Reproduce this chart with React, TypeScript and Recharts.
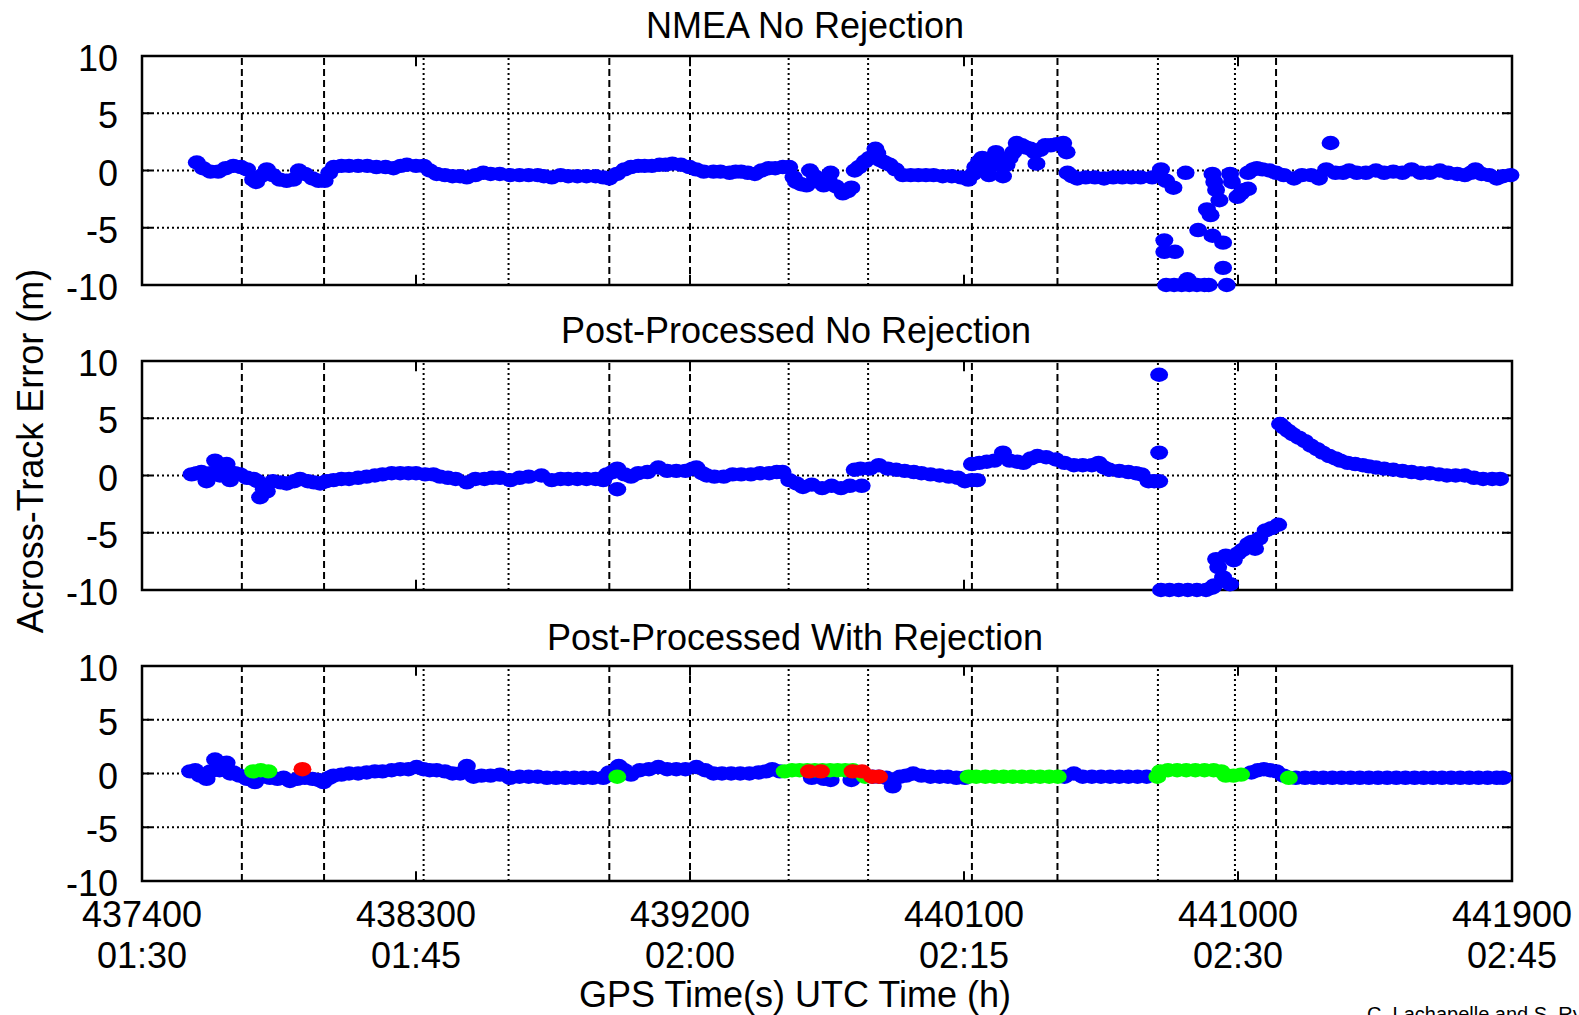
import React from 'react';
import { ScatterChart, Scatter, XAxis, YAxis, CartesianGrid, ReferenceLine, ReferenceArea } from 'recharts';

type P = [number, number];

// ---- axes / labels ----
const X_DOMAIN: [number, number] = [437400, 441900];
const X_TICKS = [437400, 438300, 439200, 440100, 441000, 441900];
const UTC_LABELS = ['01:30', '01:45', '02:00', '02:15', '02:30', '02:45'];
const Y_TICKS = [-10, -5, 0, 5, 10];
const PANEL_TITLES = ['NMEA No Rejection', 'Post-Processed No Rejection', 'Post-Processed With Rejection'];
const Y_LABEL = 'Across-Track Error (m)';
const X_LABEL = 'GPS Time(s) UTC Time (h)';
const CREDIT = 'C. Lachapelle and S. Ryan';

// ---- event marker lines (GPS time, s) ----
const DASHED_EVENTS = [437728, 437998, 438935, 439200, 440126, 440407, 441125];
const DOTTED_EVENTS = [438325, 438604, 439524, 439785, 440737, 440990];

// ---- panel 1 : NMEA no rejection ----
const NMEA: P[] = [
  [437580,0.7],[437600,0.2],[437625,-0.1],[437650,-0.1],[437675,0.2],[437700,0.4],[437725,0.3],[437745,0.1],[437765,-0.8],[437775,-1.0],
  [437790,-0.5],[437810,0.1],[437830,-0.4],[437853,-0.8],[437875,-0.9],[437897,-0.8],[437915,0.0],[437935,-0.3],[437960,-0.7],[437980,-0.9],
  [438000,-0.9],[438015,-0.2],[438030,0.3],[438055,0.4],[438080,0.4],[438110,0.4],[438140,0.4],[438170,0.3],[438200,0.3],[438226,0.2],
  [438250,0.4],[438270,0.5],[438300,0.4],[438325,0.4],[438345,0.0],[438368,-0.3],[438395,-0.4],[438420,-0.5],[438445,-0.5],[438467,-0.6],
  [438495,-0.4],[438521,-0.2],[438545,-0.3],[438575,-0.3],[438609,-0.4],[438640,-0.4],[438670,-0.4],[438700,-0.4],[438720,-0.5],[438746,-0.6],
  [438775,-0.4],[438800,-0.5],[438830,-0.5],[438860,-0.5],[438890,-0.5],[438915,-0.6],[438935,-0.7],[438960,-0.3],[438985,0.1],[439006,0.3],
  [439030,0.4],[439051,0.4],[439075,0.4],[439100,0.5],[439120,0.5],[439142,0.6],[439170,0.5],[439198,0.3],[439220,0.1],[439245,-0.1],
  [439277,-0.1],[439300,-0.1],[439330,-0.2],[439350,-0.1],[439368,-0.1],[439390,-0.2],[439413,-0.3],[439435,0.0],[439458,0.2],[439480,0.2],
  [439505,0.3],[439526,0.3],[439540,-0.6],[439549,-1.0],[439565,-1.2],[439583,-1.3],[439594,0.0],[439610,-0.5],[439625,-1.0],[439639,-1.3],
  [439655,-0.8],[439662,-0.2],[439680,-1.4],[439702,-2.0],[439718,-1.8],[439730,-1.5],[439741,0.0],[439755,0.3],[439775,0.8],[439790,1.1],
  [439809,1.9],[439815,1.5],[439825,0.9],[439840,0.7],[439856,0.5],[439875,0.1],[439899,-0.4],[439925,-0.4],[439950,-0.4],[439975,-0.4],
  [440000,-0.4],[440030,-0.5],[440060,-0.5],[440090,-0.6],[440114,-0.8],[440130,-0.3],[440137,0.3],[440150,0.8],[440160,1.1],[440172,0.2],
  [440182,-0.4],[440195,0.9],[440205,1.6],[440215,0.5],[440228,-0.5],[440240,0.5],[440250,1.1],[440262,1.6],[440273,2.4],[440290,2.2],
  [440305,2.0],[440318,1.9],[440332,1.6],[440338,0.6],[440350,1.8],[440367,2.2],[440385,2.2],[440405,2.3],[440426,2.4],[440437,1.6],
  [440440,-0.2],[440455,-0.5],[440472,-0.7],[440500,-0.6],[440530,-0.6],[440560,-0.7],[440590,-0.6],[440620,-0.6],[440650,-0.6],[440680,-0.6],
  [440718,-0.6],[440747,0.1],[440764,-0.9],[440788,-1.5],[440828,-0.2],[440758,-6.1],[440758,-7.1],[440793,-7.1],[440764,-10],[440790,-10],
  [440815,-10],[440840,-10],[440865,-10],[440890,-10],[440904,-10],[440834,-9.5],[440869,-5.2],[440898,-3.4],[440910,-3.9],[440916,-5.7],
  [440951,-6.3],[440916,-0.3],[440922,-1.0],[440928,-1.7],[440939,-2.6],[440951,-8.5],[440963,-10],[440974,-0.3],[440980,-1.0],[440998,-2.3],
  [441010,-2.0],[441021,-1.7],[441033,-1.6],[441033,-0.2],[441050,0.1],[441062,0.2],[441080,0.1],[441103,0.0],[441125,-0.2],[441150,-0.4],
  [441184,-0.7],[441210,-0.4],[441240,-0.4],[441266,-0.7],[441290,0.1],[441304,2.4],[441320,-0.2],[441345,-0.2],[441365,0.0],[441390,-0.2],
  [441420,-0.2],[441453,0.0],[441480,-0.2],[441510,-0.1],[441540,-0.2],[441570,0.1],[441600,-0.2],[441630,-0.2],[441663,0.0],[441690,-0.2],
  [441720,-0.3],[441745,-0.4],[441765,-0.2],[441780,0.1],[441800,-0.3],[441825,-0.4],[441850,-0.7],[441870,-0.5],[441895,-0.4],
];

// ---- panel 2 : post-processed, no rejection ----
const PP_NO_REJ: P[] = [
  [437563,0.1],[437580,0.2],[437595,0.3],[437612,-0.5],[437625,0.2],[437640,1.3],[437656,0.0],[437665,0.8],[437678,1.0],[437689,-0.4],
  [437705,0.2],[437722,0.1],[437745,-0.2],[437766,-0.3],[437780,-0.5],[437788,-1.9],[437800,-1.2],[437810,-1.4],[437830,-0.5],[437855,-0.6],
  [437875,-0.7],[437900,-0.5],[437919,-0.3],[437945,-0.5],[437965,-0.6],[437985,-0.7],[438005,-0.5],[438029,-0.4],[438055,-0.3],[438080,-0.3],
  [438110,-0.2],[438138,-0.1],[438165,0.0],[438190,0.1],[438220,0.2],[438248,0.2],[438275,0.2],[438300,0.2],[438330,0.1],[438357,0.1],
  [438379,-0.1],[438405,-0.2],[438430,-0.3],[438467,-0.6],[438495,-0.3],[438525,-0.3],[438550,-0.2],[438576,-0.2],[438610,-0.4],[438640,-0.2],
  [438670,-0.1],[438712,0.0],[438746,-0.4],[438775,-0.3],[438800,-0.3],[438830,-0.3],[438860,-0.3],[438890,-0.3],[438915,-0.4],[438927,0.1],
  [438945,0.3],[438961,0.6],[438961,-1.2],[438985,0.1],[439006,-0.1],[439030,0.2],[439060,0.3],[439096,0.7],[439125,0.4],[439155,0.4],
  [439185,0.4],[439209,0.6],[439221,0.7],[439240,0.2],[439255,0.0],[439280,-0.1],[439311,-0.1],[439340,0.1],[439368,0.1],[439400,0.1],
  [439430,0.2],[439460,0.2],[439485,0.3],[439504,0.3],[439526,-0.4],[439550,-0.7],[439571,-1.0],[439600,-0.8],[439634,-1.1],[439665,-0.9],
  [439696,-1.1],[439725,-0.9],[439764,-0.9],[439741,0.5],[439760,0.6],[439790,0.6],[439820,0.9],[439850,0.6],[439877,0.5],[439905,0.4],
  [439935,0.3],[439960,0.2],[439990,0.1],[440020,0.0],[440050,-0.1],[440080,-0.2],[440103,-0.5],[440125,-0.4],[440143,-0.4],[440126,1.0],
  [440150,1.1],[440175,1.2],[440200,1.3],[440228,2.0],[440250,1.3],[440275,1.2],[440295,1.1],[440320,1.5],[440341,1.7],[440370,1.6],
  [440402,1.4],[440430,1.1],[440461,0.9],[440490,0.9],[440520,0.9],[440542,1.1],[440560,0.7],[440577,0.5],[440610,0.4],[440640,0.3],
  [440665,0.2],[440683,0.1],[440706,-0.5],[440725,-0.5],[440741,-0.5],[440741,8.8],[440741,2.0],[440747,-10],[440775,-10],[440805,-10],
  [440835,-10],[440865,-10],[440895,-10],[440915,-9.8],[440922,-9.6],[440928,-7.3],[440935,-8.0],[440951,-8.9],[440974,-9.5],[440960,-7.0],
  [440986,-7.4],[441000,-6.8],[441015,-6.5],[441033,-6.0],[441045,-5.8],[441056,-6.4],[441070,-5.5],[441091,-4.8],[441110,-4.6],[441132,-4.3],
  [441138,4.5],[441150,4.2],[441165,3.9],[441180,3.6],[441200,3.3],[441220,3.0],[441240,2.6],[441260,2.3],[441278,2.0],[441300,1.7],
  [441320,1.5],[441336,1.3],[441360,1.1],[441385,1.0],[441410,0.9],[441430,0.8],[441453,0.7],[441480,0.6],[441510,0.5],[441540,0.4],
  [441570,0.3],[441600,0.2],[441630,0.2],[441660,0.1],[441686,0.0],[441715,0.0],[441745,0.0],[441775,-0.2],[441805,-0.3],[441835,-0.3],
  [441861,-0.3],
];

// ---- panel 3 : post-processed with rejection ----
const PP_REJ_BLUE: P[] = [
  [437558,0.2],[437575,0.3],[437591,-0.2],[437612,-0.5],[437625,0.2],[437640,1.3],[437655,0.3],[437678,1.0],[437690,0.0],[437700,0.1],
  [437720,-0.2],[437745,-0.5],[437771,-0.8],[437795,-0.3],[437820,-0.4],[437845,-0.5],[437865,-0.4],[437886,-0.7],[437910,-0.5],[437935,-0.4],
  [437960,-0.5],[437980,-0.6],[437996,-0.8],[438015,-0.4],[438029,-0.2],[438055,-0.1],[438080,0.0],[438110,0.0],[438138,0.1],[438165,0.2],
  [438190,0.2],[438220,0.3],[438248,0.4],[438275,0.4],[438302,0.6],[438325,0.4],[438345,0.3],[438368,0.3],[438395,0.2],[438420,0.0],
  [438445,0.0],[438467,0.7],[438489,-0.3],[438515,-0.2],[438545,-0.2],[438576,-0.1],[438609,-0.4],[438640,-0.3],[438670,-0.3],[438700,-0.3],
  [438730,-0.4],[438760,-0.4],[438790,-0.4],[438820,-0.4],[438850,-0.4],[438880,-0.4],[438915,-0.4],[438935,0.1],[438966,0.7],[438985,0.3],
  [439006,-0.1],[439035,0.3],[439065,0.4],[439096,0.6],[439125,0.4],[439155,0.4],[439185,0.4],[439221,0.6],[439250,0.3],[439277,0.0],
  [439305,0.0],[439335,0.0],[439365,0.0],[439395,0.0],[439425,0.1],[439450,0.2],[439470,0.4],[439495,0.2],[439600,-0.4],[439640,-0.5],
  [439662,-0.6],[439730,-0.6],[439800,-0.3],[439820,-0.3],[439845,-0.4],[439866,-1.2],[439890,-0.3],[439910,-0.2],[439933,0.0],[439960,-0.2],
  [439990,-0.3],[440020,-0.3],[440047,-0.3],[440075,-0.4],[440103,-0.4],[440430,-0.3],[440461,0.0],[440490,-0.3],[440520,-0.3],[440550,-0.3],
  [440580,-0.3],[440610,-0.3],[440640,-0.3],[440670,-0.3],[440700,-0.3],[441044,0.1],[441065,0.3],[441085,0.4],[441105,0.3],[441126,0.2],
  [441150,-0.2],[441190,-0.4],[441220,-0.4],[441250,-0.4],[441280,-0.4],[441310,-0.4],[441340,-0.4],[441370,-0.4],[441400,-0.4],[441430,-0.4],
  [441460,-0.4],[441490,-0.4],[441520,-0.4],[441550,-0.4],[441580,-0.4],[441610,-0.4],[441640,-0.4],[441670,-0.4],[441700,-0.4],[441730,-0.4],
  [441760,-0.4],[441790,-0.4],[441820,-0.4],[441850,-0.4],[441870,-0.4],
];
const PP_REJ_GREEN: P[] = [
  [437765,0.2],[437790,0.3],[437815,0.2],[438961,-0.3],
  [439511,0.2],[439535,0.3],[439560,0.3],[439585,0.3],[439610,0.3],[439635,0.3],[439660,0.3],[439685,0.3],[439710,0.3],[439735,0.3],
  [439760,0.1],[439775,-0.3],
  [440115,-0.3],[440140,-0.3],[440170,-0.3],[440200,-0.3],[440230,-0.3],[440260,-0.3],[440290,-0.3],[440320,-0.3],[440350,-0.3],[440380,-0.3],
  [440408,-0.3],
  [440735,-0.3],[440745,0.2],[440770,0.3],[440800,0.3],[440830,0.3],[440860,0.3],[440890,0.3],[440920,0.3],[440945,0.2],[440960,-0.2],
  [440985,-0.2],[441010,-0.1],
  [441167,-0.4],
];
const PP_REJ_RED: P[] = [
  [437927,0.4],[439591,0.2],[439630,0.2],[439734,0.2],[439765,0.2],[439798,-0.3],[439821,-0.3],
];

const FONT = "'Liberation Sans', Arial, Helvetica, sans-serif";
const W = 1579;
const BLUE = '#0000ff';
const GREEN = '#00ff00';
const RED = '#ff0000';

const toPts = (arr: P[]) => arr.map(([t, y]) => ({ t, y }));

const dotShape = (color: string) => (p: any) => (
  <ellipse cx={p.cx} cy={p.cy} rx={9} ry={7.2} fill={color} stroke="none" />
);

const YTick = (props: any) => {
  const { x, y, payload } = props;
  return (
    <text x={x - 24} y={y + 15} textAnchor="end" fontSize={36} fill="#000" fontFamily={FONT}>
      {payload.value}
    </text>
  );
};

const XTick = (props: any) => {
  const { x, y, payload } = props;
  const i = X_TICKS.indexOf(payload.value);
  return (
    <g>
      <text x={x} y={y + 46} textAnchor="middle" fontSize={36} fill="#000" fontFamily={FONT}>
        {payload.value}
      </text>
      <text x={x} y={y + 87} textAnchor="middle" fontSize={36} fill="#000" fontFamily={FONT}>
        {UTC_LABELS[i]}
      </text>
    </g>
  );
};

type SeriesDef = { data: P[]; color: string };

function Panel({ top, plotH, series, showX }: { top: number; plotH: number; series: SeriesDef[]; showX: boolean }) {
  const mt = 20;
  const mb = showX ? 0 : 32;
  const xh = showX ? 110 : 0;
  const h = mt + plotH + mb + xh;
  const tx = 33; // inward tick length (s)
  const ty = 0.9; // inward tick length (m)
  return (
    <div style={{ position: 'absolute', left: 0, top: top - mt, width: W, height: h }}>
      <ScatterChart width={W} height={h} margin={{ top: mt, right: 67, bottom: mb, left: 0 }}>
        <CartesianGrid vertical={false} stroke="#000" strokeDasharray="2 3" strokeWidth={2} />
        <XAxis
          type="number"
          dataKey="t"
          domain={X_DOMAIN}
          ticks={X_TICKS}
          interval={0}
          hide={!showX}
          height={xh}
          axisLine={false}
          tickLine={false}
          tickSize={0}
          tickMargin={0}
          tick={XTick}
        />
        <YAxis
          type="number"
          dataKey="y"
          domain={[-10, 10]}
          ticks={Y_TICKS}
          interval={0}
          width={142}
          axisLine={false}
          tickLine={false}
          tickSize={0}
          tickMargin={0}
          tick={YTick}
        />
        {series.map((s, i) => (
          <Scatter
            key={i}
            data={toPts(s.data)}
            fill={s.color}
            isAnimationActive={false}
            shape={dotShape(s.color)}
          />
        ))}
        {DOTTED_EVENTS.map((v) => (
          <ReferenceLine key={'d' + v} x={v} stroke="#000" strokeWidth={2} strokeDasharray="2 3" />
        ))}
        {DASHED_EVENTS.map((v) => (
          <ReferenceLine key={'D' + v} x={v} stroke="#000" strokeWidth={2} strokeDasharray="7 4" />
        ))}
        {Y_TICKS.map((v) => (
          <ReferenceLine key={'yl' + v} segment={[{ x: X_DOMAIN[0], y: v }, { x: X_DOMAIN[0] + tx, y: v }]} stroke="#000" strokeWidth={2} />
        ))}
        {Y_TICKS.map((v) => (
          <ReferenceLine key={'yr' + v} segment={[{ x: X_DOMAIN[1] - tx, y: v }, { x: X_DOMAIN[1], y: v }]} stroke="#000" strokeWidth={2} />
        ))}
        {X_TICKS.map((v) => (
          <ReferenceLine key={'xb' + v} segment={[{ x: v, y: -10 }, { x: v, y: -10 + ty }]} stroke="#000" strokeWidth={2} />
        ))}
        {X_TICKS.map((v) => (
          <ReferenceLine key={'xt' + v} segment={[{ x: v, y: 10 - ty }, { x: v, y: 10 }]} stroke="#000" strokeWidth={2} />
        ))}
        <ReferenceArea x1={X_DOMAIN[0]} x2={X_DOMAIN[1]} y1={-10} y2={10} fill="none" fillOpacity={0} stroke="#000" strokeWidth={2.5} />
      </ScatterChart>
    </div>
  );
}

export default function App() {
  return (
    <div style={{ position: 'absolute', left: 0, top: 0, width: W, height: 1015, background: '#fff', overflow: 'hidden', fontFamily: FONT }}>
      <Panel top={56} plotH={229} showX={false} series={[{ data: NMEA, color: BLUE }]} />
      <Panel top={361} plotH={229} showX={false} series={[{ data: PP_NO_REJ, color: BLUE }]} />
      <Panel
        top={666}
        plotH={215}
        showX={true}
        series={[
          { data: PP_REJ_BLUE, color: BLUE },
          { data: PP_REJ_GREEN, color: GREEN },
          { data: PP_REJ_RED, color: RED },
        ]}
      />
      <svg width={W} height={1015} style={{ position: 'absolute', left: 0, top: 0, pointerEvents: 'none' }}>
        <text x={805} y={38} textAnchor="middle" fontSize={36} fill="#000" fontFamily={FONT}>{PANEL_TITLES[0]}</text>
        <text x={796} y={343} textAnchor="middle" fontSize={36} fill="#000" fontFamily={FONT}>{PANEL_TITLES[1]}</text>
        <text x={795} y={650} textAnchor="middle" fontSize={36} fill="#000" fontFamily={FONT}>{PANEL_TITLES[2]}</text>
        <text transform="translate(43,451) rotate(-90)" textAnchor="middle" fontSize={36} fill="#000" fontFamily={FONT}>{Y_LABEL}</text>
        <text x={795} y={1007} textAnchor="middle" fontSize={36} fill="#000" fontFamily={FONT}>{X_LABEL}</text>
        <text x={1367} y={1021} fontSize={20} fill="#000" fontFamily={FONT}>{CREDIT}</text>
      </svg>
    </div>
  );
}
